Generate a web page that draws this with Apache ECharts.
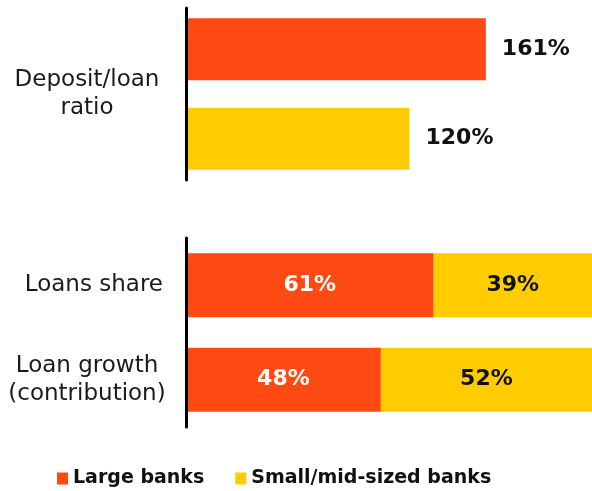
<!DOCTYPE html>
<html>
<head>
<meta charset="utf-8">
<script src="https://cdn.jsdelivr.net/npm/echarts@6/dist/echarts.min.js"></script>
<style>
  html, body { margin: 0; padding: 0; background: #fff; }
  #chart { width: 592px; height: 491px; }
</style>
</head>
<body>
<div id="chart"></div>
<script>
// Bank groups (legend entries)
const seriesNames = ['Large banks', 'Small/mid-sized banks'];

// Upper panel: deposit-to-loan ratio, in percent
const ratioCategories = ['Deposit/loan\nratio'];
const ratioLarge = [161];
const ratioSmall = [120];

// Lower panel: split between bank groups, in percent
const shareCategories = ['Loans share', 'Loan growth\n(contribution)'];
const shareLarge = [61, 48];
const shareSmall = [39, 52];

const ORANGE = '#FF4A14';
const YELLOW = '#FFCC00';
const FONT = '"DejaVu Sans", sans-serif';

// Multi-line category names are centred line by line inside a right-aligned block
function categoryLabel(name) {
  if (name.indexOf('\n') >= 0) {
    return name.split('\n').map(function (l) { return '{m|' + l + '}'; }).join('\n');
  }
  return '{s|' + name + '}';
}
const labelRich = {
  m: { width: 152, align: 'center', fontSize: 23, lineHeight: 28, color: '#1a1a1a', fontFamily: FONT },
  s: { fontSize: 23, lineHeight: 28, color: '#1a1a1a', fontFamily: FONT }
};

function catAxis(gridIndex, data) {
  return {
    type: 'category',
    gridIndex: gridIndex,
    data: data,
    inverse: true,
    z: 5,
    axisLine: { show: true, lineStyle: { color: '#000', width: 3 } },
    axisTick: { show: false },
    axisLabel: { margin: 23, align: 'right', formatter: categoryLabel, rich: labelRich }
  };
}

const valueLabel = function (p) { return p.value + '%'; };
const boldText = { fontFamily: FONT, fontWeight: 'bold', fontSize: 22 };

const chart = echarts.init(document.getElementById('chart'), null, { renderer: 'canvas' });
chart.setOption({
  animation: false,
  backgroundColor: '#fff',
  textStyle: { fontFamily: FONT },
  grid: [
    { left: 186, right: 0, top: 8, height: 172 },
    { left: 186, right: 0, top: 238, height: 189 }
  ],
  xAxis: [
    { type: 'value', gridIndex: 0, min: 0, max: 218, show: false },
    { type: 'value', gridIndex: 1, min: 0, max: 100, show: false }
  ],
  yAxis: [catAxis(0, ratioCategories), catAxis(1, shareCategories)],
  legend: {
    left: 52,
    top: 464,
    icon: 'rect',
    itemWidth: 11,
    itemHeight: 12,
    itemGap: 31,
    data: seriesNames,
    textStyle: { fontFamily: FONT, fontWeight: 'bold', fontSize: 19, color: '#111' }
  },
  series: [
    {
      name: seriesNames[0], type: 'bar', xAxisIndex: 0, yAxisIndex: 0,
      data: ratioLarge, barWidth: 62, barGap: '44%',
      itemStyle: { color: ORANGE },
      label: Object.assign({ show: true, position: 'right', distance: 16, color: '#111', formatter: valueLabel }, boldText)
    },
    {
      name: seriesNames[1], type: 'bar', xAxisIndex: 0, yAxisIndex: 0,
      data: ratioSmall, barWidth: 62, barGap: '44%',
      itemStyle: { color: YELLOW },
      label: Object.assign({ show: true, position: 'right', distance: 16, color: '#111', formatter: valueLabel }, boldText)
    },
    {
      name: seriesNames[0], type: 'bar', xAxisIndex: 1, yAxisIndex: 1, stack: 'share',
      data: shareLarge, barWidth: 64,
      itemStyle: { color: ORANGE },
      label: Object.assign({ show: true, position: 'inside', color: '#fff', formatter: valueLabel }, boldText)
    },
    {
      name: seriesNames[1], type: 'bar', xAxisIndex: 1, yAxisIndex: 1, stack: 'share',
      data: shareSmall, barWidth: 64,
      itemStyle: { color: YELLOW },
      label: Object.assign({ show: true, position: 'inside', color: '#111', formatter: valueLabel }, boldText)
    }
  ]
});
</script>
</body>
</html>
